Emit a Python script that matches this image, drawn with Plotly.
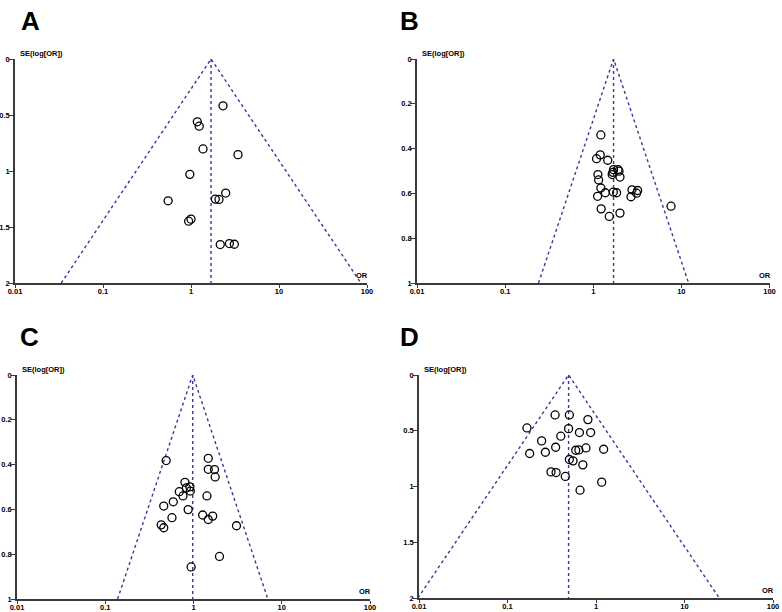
import math
import plotly.graph_objects as go

# ---------------- data ----------------
panel_labels = ["A", "B", "C", "D"]

a_or = [2.31, 1.18, 1.24, 1.37, 3.42, 0.97, 2.48, 1.89, 2.08, 0.55, 1.00, 0.94, 2.15, 2.73, 3.11]
a_se = [0.418, 0.561, 0.600, 0.803, 0.854, 1.030, 1.197, 1.251, 1.254, 1.266, 1.430, 1.448, 1.657, 1.648, 1.654]

b_or = [1.22, 1.20, 1.09, 1.46, 1.70, 1.91, 1.96, 1.67, 1.64, 2.01, 1.13, 1.15, 1.22, 1.37, 1.69,
        1.84, 1.12, 2.75, 3.19, 3.10, 2.68, 7.63, 1.23, 2.01, 1.52]
b_se = [0.339, 0.428, 0.445, 0.452, 0.494, 0.494, 0.501, 0.506, 0.516, 0.527, 0.516, 0.540, 0.576,
        0.597, 0.594, 0.597, 0.613, 0.584, 0.587, 0.599, 0.615, 0.657, 0.669, 0.688, 0.703]

c_or = [0.49, 1.47, 1.47, 1.73, 1.76, 0.80, 0.91, 0.83, 0.92, 0.69, 0.76, 1.42, 0.59, 0.46, 0.87,
        1.27, 1.65, 1.47, 0.57, 0.43, 0.46, 3.07, 1.97, 0.94]
c_se = [0.382, 0.372, 0.421, 0.422, 0.455, 0.479, 0.499, 0.504, 0.518, 0.521, 0.540, 0.540, 0.566,
        0.585, 0.601, 0.625, 0.630, 0.645, 0.637, 0.669, 0.682, 0.673, 0.810, 0.857]

d_or = [0.345, 0.50, 0.81, 0.166, 0.49, 0.65, 0.87, 0.40, 0.243, 0.35, 0.77, 1.22, 0.59, 0.64,
        0.178, 0.268, 0.50, 0.55, 0.71, 0.31, 0.354, 0.45, 1.16, 0.66]
d_se = [0.358, 0.358, 0.400, 0.475, 0.481, 0.516, 0.516, 0.549, 0.591, 0.648, 0.654, 0.666, 0.675,
        0.672, 0.704, 0.693, 0.758, 0.770, 0.806, 0.869, 0.875, 0.910, 0.961, 1.033]

pooled_or = [1.69, 1.70, 0.98, 0.49]
max_se = [2, 1, 1, 2]

x_tickvals = [0.01, 0.1, 1, 10, 100]
x_ticktext = ["0.01", "0.1", "1", "10", "100"]
y_tickvals_2 = [0, 0.5, 1, 1.5, 2]
y_ticktext_2 = ["0", "0.5", "1", "1.5", "2"]
y_tickvals_1 = [0, 0.2, 0.4, 0.6, 0.8, 1]
y_ticktext_1 = ["0", "0.2", "0.4", "0.6", "0.8", "1"]

y_label = "SE(log[OR])"
x_label = "OR"

# ---------------- layout geometry ----------------
W, H = 782, 612
# plot boxes in pixels: (x0, x1, ytop, ybottom)
boxes = [(15, 367, 59, 283), (417, 769.5, 59, 283), (17, 370, 375, 599), (419, 773, 375, 598)]
letter_pos = [(19, 4), (398, 4), (18, 320), (398, 320)]

funnel_color = "#38389a"
axis_color = "#3a3a3a"
font_family = "Liberation Sans, Arial, sans-serif"

fig = go.Figure()
series = [(a_or, a_se), (b_or, b_se), (c_or, c_se), (d_or, d_se)]
yticks = [(y_tickvals_2, y_ticktext_2), (y_tickvals_1, y_ticktext_1),
          (y_tickvals_1, y_ticktext_1), (y_tickvals_2, y_ticktext_2)]

for i in range(4):
    sfx = "" if i == 0 else str(i + 1)
    xref = "x" + sfx
    yref = "y" + sfx
    p = pooled_or[i]
    m = max_se[i]
    lo = math.exp(math.log(p) - 1.96 * m)
    hi = math.exp(math.log(p) + 1.96 * m)
    # funnel
    fig.add_trace(go.Scatter(x=[lo, p, hi], y=[m, 0, m], mode="lines",
                             line=dict(color=funnel_color, width=1.4, dash="dot"),
                             xaxis=xref, yaxis=yref, hoverinfo="skip", showlegend=False,
                             cliponaxis=False))
    fig.add_trace(go.Scatter(x=[p, p], y=[0, m], mode="lines",
                             line=dict(color=funnel_color, width=1.4, dash="dot"),
                             xaxis=xref, yaxis=yref, hoverinfo="skip", showlegend=False))
    # studies
    xs, ys = series[i]
    fig.add_trace(go.Scatter(x=xs, y=ys, mode="markers",
                             marker=dict(symbol="circle-open", size=8, color="black",
                                         line=dict(width=1.3, color="black")),
                             xaxis=xref, yaxis=yref, showlegend=False))

    x0, x1, yt, yb = boxes[i]
    xax = dict(type="log", range=[-2, 2], domain=[x0 / W, x1 / W], anchor=yref,
               tickvals=x_tickvals, ticktext=x_ticktext, ticks="outside", ticklen=3,
               tickwidth=1.3, tickcolor=axis_color, showline=True, linecolor=axis_color,
               linewidth=1.6, showgrid=False, zeroline=False, automargin=False,
               ticklabelstandoff=-3,
               tickfont=dict(size=7.5, color="black", family=font_family, weight="bold"))
    yax = dict(range=[m, 0], domain=[1 - yb / H, 1 - yt / H], anchor=xref,
               tickvals=yticks[i][0], ticktext=yticks[i][1], ticks="outside", ticklen=4,
               tickwidth=1.3, tickcolor=axis_color, showline=True, linecolor=axis_color,
               linewidth=1.6, showgrid=False, zeroline=False, automargin=False,
               ticklabelstandoff=-2,
               tickfont=dict(size=7.5, color="black", family=font_family, weight="bold"))
    fig.layout["xaxis" + sfx] = xax
    fig.layout["yaxis" + sfx] = yax

    # axis titles
    fig.add_annotation(x=(x0 + 3) / W, y=1 - (yt - 6) / H, xref="paper", yref="paper",
                       text=y_label, showarrow=False, xanchor="left", yanchor="middle",
                       font=dict(size=7.5, color="black", family=font_family, weight="bold"))
    fig.add_annotation(x=(x1 + 3) / W, y=1 - (yb - 1) / H, xref="paper", yref="paper",
                       text=x_label, showarrow=False, xanchor="right", yanchor="bottom",
                       font=dict(size=7.5, color="black", family=font_family, weight="bold"))
    # panel letter
    lx, ly = letter_pos[i]
    fig.add_annotation(x=lx / W, y=1 - ly / H, xref="paper", yref="paper",
                       text=panel_labels[i], showarrow=False, xanchor="left", yanchor="top",
                       font=dict(size=26, color="black", family=font_family, weight="bold"))

fig.update_layout(width=W, height=H, margin=dict(l=0, r=0, t=0, b=0),
                  paper_bgcolor="white", plot_bgcolor="white", showlegend=False)

fig.write_html("out.html", config={"displayModeBar": False},
               post_script="document.body.style.margin='0';document.body.style.overflow='hidden';")
